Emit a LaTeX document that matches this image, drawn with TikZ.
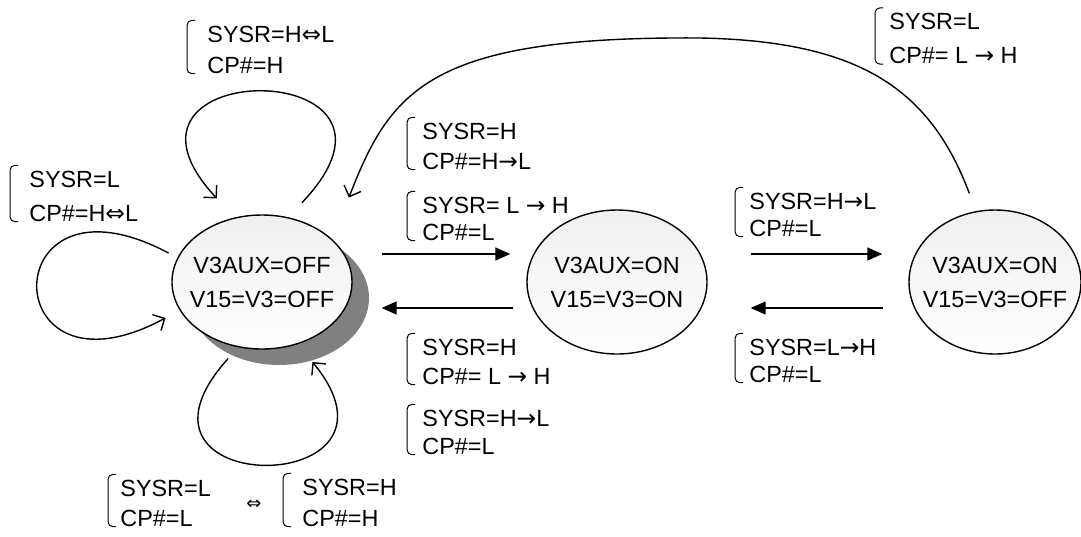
\documentclass[tikz,border=0pt]{standalone}
\usepackage{fontspec}
\setmainfont{Liberation Sans}
\newfontfamily\symfont[Scale=1.0]{DejaVu Sans}
\usetikzlibrary{arrows.meta,shapes.geometric,shadows}

\newcommand\ra{{\symfont →}}
\newcommand\lr{{\symfont ⇔}}

\tikzset{
  vstate/.style={ellipse, draw, line width=0.7pt, inner xsep=-6pt, inner ysep=0pt,
    top color=black!6, bottom color=white, align=center,
    font=\fontsize{11.7}{17}\selectfont},
  bracket/.style={draw, line width=0.5pt, rounded corners=2.5pt,
    to path={-- ++(-4pt,0) |- (\tikztotarget)}},
  cond/.style={anchor=west, align=left, inner sep=0pt,
    font=\fontsize{11.7}{15}\selectfont,
    append after command={([xshift=-#1,yshift=2.5pt]\tikzlastnode.north west)
      edge[bracket] ([xshift=-#1]\tikzlastnode.south west)}},
  cond/.default=3.5pt,
  flow/.style={line width=0.7pt, -{Triangle[length=7.5pt,width=6.5pt]}},
  selfloop/.style={line width=0.7pt, -{Straight Barb[length=4.5pt,width=9pt]}},
}

\begin{document}
\begin{tikzpicture}[x=0.5pt, y=-0.5pt]
    \useasboundingbox (0,0) rectangle (1081,536);

    % states
    \node[vstate, minimum width=90pt, minimum height=67pt,
          drop shadow={shadow xshift=8.5pt, shadow yshift=-8pt, fill=black!50, opacity=1}]
          (allOff) at (262,282) {V3AUX=OFF\\V15=V3=OFF};
    \node[vstate, minimum width=90pt, minimum height=72pt] (allOn) at (617,282) {V3AUX=ON\\V15=V3=ON};
    \node[vstate, minimum width=86pt, minimum height=72pt] (auxOnly) at (995,282) {V3AUX=ON\\V15=V3=OFF};

    % transitions between states
    \draw[flow] ([shift={(29,-28)}]allOff.east) -- ([shift={(-16,-28)}]allOn.west);
    \draw[flow] ([shift={(-13,26)}]allOn.west) -- ([shift={(29,26)}]allOff.east);
    \draw[flow] ([shift={(43,-28)}]allOn.east) -- ([shift={(-26,-28)}]auxOnly.west);
    \draw[flow] ([shift={(-25,26)}]auxOnly.west) -- ([shift={(43,26)}]allOn.east);

    \coordinate (arcTop) at (700,38);
    \draw[selfloop, shorten <=9.5pt, shorten >=22.5pt] (auxOnly.105)
        .. controls ([shift={(-46,-122)}]auxOnly.105) and ([shift={(160,3)}]arcTop) .. (arcTop)
        .. controls ([shift={(-270,-2)}]arcTop) and ([shift={(58,-150)}]allOff.31) .. (allOff.31);

    % self loops
    \draw[selfloop, shorten <=10pt, shorten >=13pt] (allOff.68)
        .. controls ([shift={(155,-163)}]allOff.68) and ([shift={(-152,-163)}]allOff.113) .. (allOff.113);
    \draw[selfloop, shorten <=5pt, shorten >=8pt] (allOff.164)
        .. controls ([shift={(-184,-98)}]allOff.164) and ([shift={(-186,100)}]allOff.199) .. (allOff.199);
    \draw[selfloop, shorten <=7.5pt, shorten >=11.5pt] (allOff.250)
        .. controls ([shift={(-138,153)}]allOff.250) and ([shift={(128,156)}]allOff.300) .. (allOff.300);

    % conditions
    \node[cond=6pt] (topCond) at (207,49.5) {SYSR=H\lr L\\[0.5pt]CP\#=H};
    \node[cond=5.5pt] (leftCond) at (29,196) {SYSR=L\\[2pt]CP\#=H\lr L};
    \node[cond] (upCondA) at (422,146) {SYSR=H\\CP\#=H\ra L};
    \node[cond] (upCondB) at (422,218.5) {SYSR= L \ra{} H\\[-1.5pt]CP\#=L};
    \node[cond] (downCondA) at (422,361.5) {SYSR=H\\[-0.5pt]CP\#= L \ra{} H};
    \node[cond] (downCondB) at (422,432) {SYSR=H\ra L\\[-1pt]CP\#=L};
    \node[cond=3pt] (backCond) at (889,38.5) {SYSR=L\\[2pt]CP\#= L \ra{} H};
    \node[cond=3pt] (auxUpCond) at (749,214.5) {SYSR=H\ra L\\[-1.5pt]CP\#=L};
    \node[cond=3pt] (auxDownCond) at (749,360.5) {SYSR=L\ra H\\[-1.5pt]CP\#=L};
    \node[cond=2pt] (botCondA) at (120,503) {SYSR=L\\CP\#=L};
    \node[cond=5.5pt] (botCondB) at (302,502.5) {SYSR=H\\[0.5pt]CP\#=H};
    \node[font=\fontsize{9}{9}\selectfont, inner sep=0pt] (botSwap) at (254,505) {\lr};
\end{tikzpicture}
\end{document}
